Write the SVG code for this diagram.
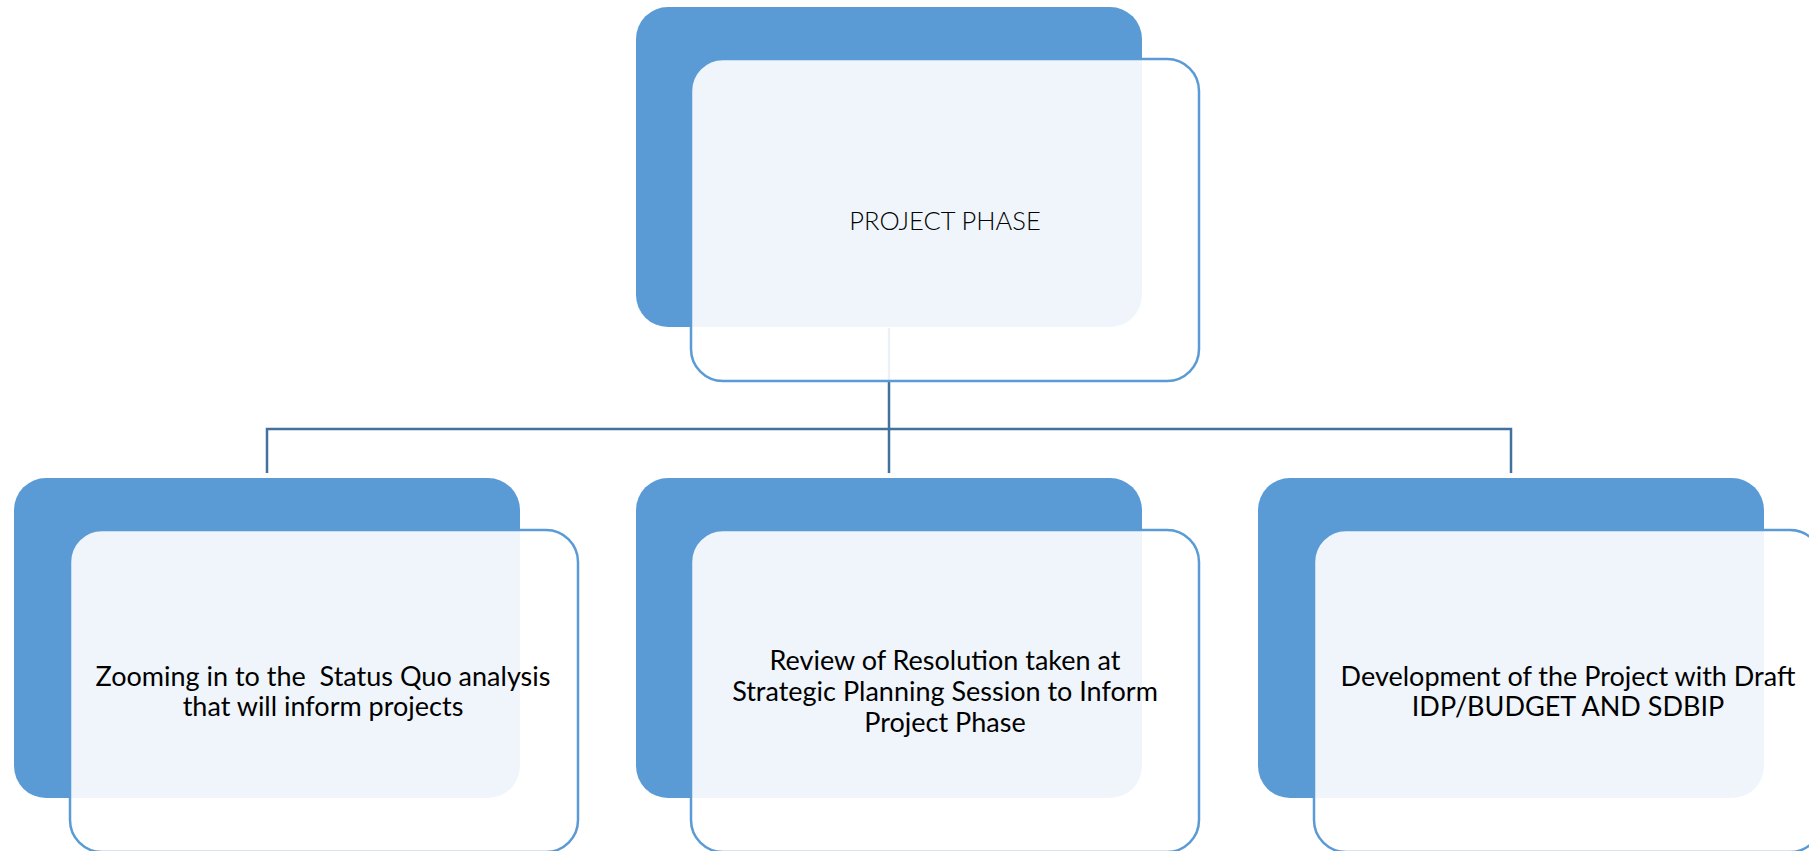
<svg xmlns="http://www.w3.org/2000/svg" width="1809" height="851" viewBox="0 0 1809 851">
<style>
.back{fill:#5B9BD5;}
.front{fill:#FFFFFF;fill-opacity:0.9;stroke:#5B9BD5;stroke-width:2.5;}
.conn{fill:none;stroke:#41719C;stroke-width:2.5;}
.lbl{font-family:Lato,"Open Sans","Liberation Sans",sans-serif;font-size:27px;fill:#000000;text-anchor:middle;white-space:pre;}
.title{font-family:Lato,"Open Sans","Liberation Sans",sans-serif;font-size:25.5px;font-weight:300;fill:#000000;text-anchor:middle;}
</style>
<rect width="1809" height="851" fill="#FFFFFF"/>
<g id="connectors">
<path class="conn" d="M889,328 V429 M267,473 V429 H1511 V473 M889,429 V473"/>
</g>
<g id="node-project-phase">
<rect class="back" x="636" y="7" width="506" height="320" rx="32"/>
<rect class="front" x="691" y="59" width="508" height="322" rx="32"/>
<text class="title" x="945" y="230">PROJECT PHASE</text>
</g>
<g id="node-status-quo">
<rect class="back" x="14" y="478" width="506" height="320" rx="32"/>
<rect class="front" x="70" y="530" width="508" height="322" rx="32"/>
<text class="lbl" x="323" y="686" xml:space="preserve">Zooming in to the  Status Quo analysis</text>
<text class="lbl" x="323" y="716">that will inform projects</text>
</g>
<g id="node-review">
<rect class="back" x="636" y="478" width="506" height="320" rx="32"/>
<rect class="front" x="691" y="530" width="508" height="322" rx="32"/>
<text class="lbl" x="945" y="670">Review of Resolution taken at</text>
<text class="lbl" x="945" y="701">Strategic Planning Session to Inform</text>
<text class="lbl" x="945" y="732">Project Phase</text>
</g>
<g id="node-development">
<rect class="back" x="1258" y="478" width="506" height="320" rx="32"/>
<rect class="front" x="1314" y="530" width="508" height="322" rx="32"/>
<text class="lbl" x="1568" y="686">Development of the Project with Draft</text>
<text class="lbl" x="1568" y="716">IDP/BUDGET AND SDBIP</text>
</g>
</svg>
